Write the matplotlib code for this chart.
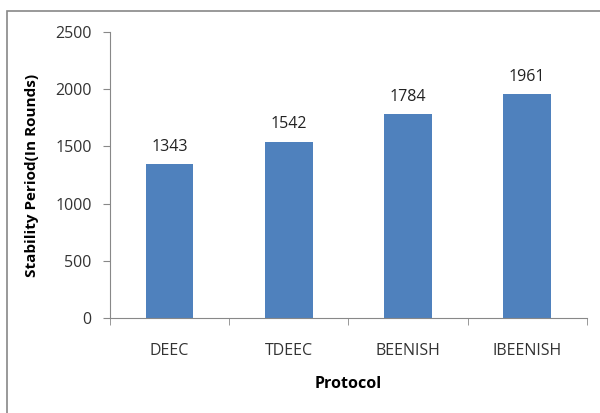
import matplotlib.pyplot as plt
from matplotlib.patches import Rectangle

protocols = ['DEEC', 'TDEEC', 'BEENISH', 'IBEENISH']
rounds = [1343, 1542, 1784, 1961]

plt.rcParams['font.family'] = ['Open Sans', 'DejaVu Sans']

fig = plt.figure(figsize=(6, 4.13), dpi=100)
ax = fig.add_axes([0.183, 0.230, 0.795, 0.6925])

# outer chart border (only left/top visible in reference)
fig.patches.append(Rectangle((7/600, -0.1), 1.2, 1 - 11/413 + 0.1, transform=fig.transFigure,
                             fill=False, edgecolor='#888888', linewidth=1.2))

x = range(len(protocols))
bars = ax.bar(x, rounds, width=0.4, color='#4F81BD')
for i, v in enumerate(rounds):
	ax.text(i, v + 80, str(v), ha='center', va='bottom', fontsize=11.5, color='#222222')

ax.set_xlim(-0.5, len(protocols) - 0.5)
ax.set_ylim(0, 2500)
ax.set_yticks(range(0, 2501, 500))
ax.set_xticks(x)
ax.set_xticklabels(protocols, fontsize=11.5, color='#333333')
ax.tick_params(axis='y', labelsize=11.5, colors='#333333', length=5, color='#888888', pad=8)
ax.tick_params(axis='x', length=0, pad=18)
# category boundary ticks
ax.set_xticks([i - 0.5 for i in range(len(protocols) + 1)], minor=True)
ax.tick_params(axis='x', which='minor', length=5, color='#888888')

for s in ['top', 'right']:
	ax.spines[s].set_visible(False)
ax.spines['left'].set_color('#888888')
ax.spines['bottom'].set_color('#888888')

ax.set_ylabel('Stability Period(In Rounds)', fontsize=11, fontweight='bold', labelpad=12)
ax.set_xlabel('Protocol', fontsize=11.5, fontweight='bold', labelpad=12)

fig.savefig('out.png', dpi=100)
